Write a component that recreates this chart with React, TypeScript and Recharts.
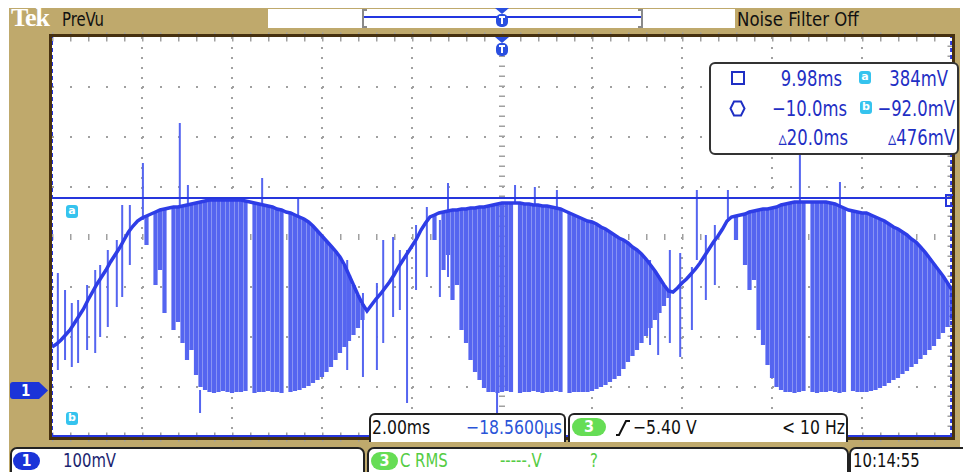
import { ComposedChart, Line, XAxis, YAxis, CartesianGrid, ReferenceLine } from "recharts"
import type { CSSProperties } from "react"

const FONT = '"Liberation Sans Narrow", "DejaVu Sans Condensed", "Arial Narrow", sans-serif'
const KHAKI = "#bfa96c"
const TRACE = "#2e3de6"
const BAND = "#5565f0"
const GRAT = "#a0a0a0"
const READOUT = "#1f2fc4"
const CURSOR = "#2636dc"

// 2.00 ms/div, 100 mV/div, one sample every 0.1 ms from -10 ms
const startMs = -10
const sampleMs = 0.1

// top of the trace (mV)
const upperMv = [
  86, 92, 100, 110, 120, 134, 148, 162, 180, 196,
  212, 226, 240, 256, 270, 284, 300, 316, 328, 338,
  344, 348, 352, 356, 360, 362, 364, 366, 366, 368,
  370, 372, 374, 376, 378, 380, 380, 380, 380, 380,
  380, 380, 380, 378, 376, 374, 372, 370, 368, 366,
  362, 360, 356, 354, 350, 346, 342, 336, 328, 318,
  308, 298, 288, 278, 266, 250, 230, 210, 190, 172,
  158, 170, 182, 192, 204, 216, 230, 246, 260, 274,
  288, 302, 320, 334, 346, 350, 354, 356, 358, 360,
  360, 362, 362, 364, 364, 366, 366, 368, 370, 372,
  374, 374, 374, 374, 374, 372, 372, 370, 370, 368,
  368, 366, 364, 362, 358, 354, 350, 346, 342, 338,
  336, 332, 326, 322, 316, 310, 304, 300, 294, 286,
  280, 272, 262, 250, 238, 224, 210, 198, 196, 204,
  214, 222, 232, 242, 254, 268, 282, 296, 308, 322,
  338, 346, 348, 350, 352, 356, 358, 360, 362, 362,
  364, 366, 370, 372, 374, 376, 376, 376, 376, 376,
  376, 376, 376, 374, 372, 368, 364, 360, 358, 356,
  354, 354, 350, 346, 342, 338, 332, 326, 322, 316,
  310, 302, 296, 286, 276, 264, 252, 240, 228, 214,
  200,
]

// bottom of the chopped band (mV), equal to the top where there is no band
const lowerMv = [
  86, 92, 100, 110, 120, 134, 148, 162, 180, 196,
  212, 226, 240, 256, 270, 284, 300, 316, 328, 338,
  344, 290, 352, 210, 240, 154, 364, 120, 136, 94,
  60, 80, 30, 6, 0, -4, -6, -4, -2, -4,
  -6, -4, -4, -2, 376, -6, -4, -4, -2, -4,
  -4, -6, 356, -4, -2, 0, 4, 8, 14, 20,
  26, 36, 46, 60, 74, 86, 98, 110, 124, 140,
  158, 170, 182, 192, 204, 216, 230, 246, 260, 274,
  288, 302, 320, 334, 346, 300, 354, 240, 270, 180,
  210, 120, 94, 60, 36, 20, 4, -4, -4, -6,
  -4, -2, -4, 374, -6, -4, -4, -2, -4, -6,
  -4, -4, -2, -4, 358, -6, -4, -4, -4, -4,
  -2, 2, 6, 10, 16, 22, 28, 42, 56, 68,
  80, 94, 108, 124, 140, 154, 168, 184, 196, 204,
  214, 222, 232, 242, 254, 268, 282, 296, 308, 322,
  338, 346, 300, 350, 250, 200, 220, 120, 90, 50,
  24, 6, 0, -4, -4, -6, -4, -2, 376, -4,
  -6, -4, -4, -2, -4, -6, -4, 360, -2, -4,
  -4, -4, -2, 0, 4, 8, 14, 20, 24, 32,
  38, 46, 52, 62, 70, 80, 88, 102, 114, 126,
  140,
]

// isolated glitches: time (ms), bottom and top (mV)
const spikeMs = [
  -9.87, -9.71, -9.56, -9.42, -9.22, -9.04, -8.93, -8.76, -8.56, -8.44,
  -8.27, -7.98, -7.16, -6.98, -6.71, -5.33, -4.53, -3.44, -3.09, -2.78,
  -2.64, -2.42, -2.27, -2.11, -1.91, -1.67, -1.38, -1.2, -0.11, 0.29,
  0.73, 1.22, 3.29, 3.47, 3.73, 3.96, 4.22, 4.33, 4.53, 4.73,
  5.02, 6.62, 7.51,
]
const spikeLowMv = [
  40, 60, 46, 54, 80, 74, 106, 126, 166, 186,
  250, 340, 366, 366, -46, 370, 350, 40, 26, 40,
  94, 146, 160, -26, 200, 226, 186, 226, -70, 374,
  370, 366, 90, 70, 94, 66, 120, 260, 180, 210,
  336, 366, 366,
]
const spikeHighMv = [
  234, 200, 174, 180, 210, 240, 250, 280, 300, 370,
  370, 454, 534, 410, 0, 424, 386, 260, 194, 214,
  300, 306, 280, 280, 330, 366, 340, 414, 0, 410,
  406, 400, 260, 230, 280, 274, 246, 400, 310, 330,
  400, 470, 416,
]

// graticule and cursors
const screenMs = [-10, 10]
const screenMv = [-94, 706]
const gridMs = [-8, -6, -4, -2, 2, 4, 6, 8]
const gridMv = [606, 506, 406, 206, 106, 6]
const centerMs = 0
const centerMv = 306
const cursorAMv = 384
const cursorBMv = -92
const cursorAMs = 9.98
const cursorBMs = -10.0

const traceData = upperMv.map((v, i) => ({ t: startMs + i * sampleMs, v }))
const bandData = upperMv.flatMap((v, i) => {
  const t = startMs + i * sampleMs
  return lowerMv[i] < v ? [{ t, v: lowerMv[i] }, { t, v }, { t, v: null }] : []
})
const spikeData = spikeMs.flatMap((t, i) => [
  { t, v: spikeLowMv[i] },
  { t, v: spikeHighMv[i] },
  { t, v: null },
])

const box = (left: number, top: number, width: number, height: number, extra: CSSProperties = {}): CSSProperties => ({
  position: "absolute",
  left,
  top,
  width,
  height,
  boxSizing: "border-box",
  ...extra,
})

// the scope font is narrow, so squeeze the text a little
const txt = (left: number, top: number, size: number, color: string, extra: CSSProperties = {}): CSSProperties => ({
  position: "absolute",
  left,
  top,
  fontSize: size,
  color,
  fontFamily: FONT,
  lineHeight: 1,
  whiteSpace: "nowrap",
  transform: "scaleX(0.87)",
  transformOrigin: extra.textAlign === "right" ? "right center" : "left center",
  ...extra,
})

function TrigMarker({ left, top }: { left: number; top: number }) {
  return (
    <svg style={{ position: "absolute", left, top }} width={14} height={20}>
      <polygon points="0,0 14,0 7,6" fill="#2a4fe0" />
      <rect x={1} y={6} width={12} height={13} rx={5} fill="#2a4fe0" />
      <path d="M4 9 H10 M7 9 V16" stroke="#fff" strokeWidth={2} />
    </svg>
  )
}

function Pill({ left, top, width, color, label }: { left: number; top: number; width: number; color: string; label: string }) {
  return (
    <div
      style={box(left, top, width, 18, {
        background: color,
        borderRadius: 9,
        color: "#fff",
        fontFamily: FONT,
        fontSize: 16,
        fontWeight: 700,
        textAlign: "center",
        lineHeight: "18px",
      })}
    >
      {label}
    </div>
  )
}

function CursorTag({ left, top, label }: { left: number; top: number; label: string }) {
  return (
    <div
      style={box(left, top, 12, 13, {
        background: "#35c3ee",
        borderRadius: 3,
        color: "#fff",
        fontFamily: "DejaVu Sans, sans-serif",
        fontSize: 11,
        fontWeight: 700,
        textAlign: "center",
        lineHeight: "12px",
      })}
    >
      {label}
    </div>
  )
}

export default function App() {
  return (
    <div style={box(0, 0, 963, 472, { background: "#fff", overflow: "hidden" })}>
      <div style={box(9, 8, 951, 464, { background: KHAKI })} />
      <div style={box(52, 37, 900, 400, { background: "#fff" })} />

      <div style={{ position: "absolute", left: 0, top: 0 }}>
        <ComposedChart width={963} height={472} margin={{ top: 37, right: 11, bottom: 35, left: 52 }}>
          <XAxis type="number" dataKey="t" domain={screenMs} allowDataOverflow hide />
          <YAxis type="number" domain={screenMv} allowDataOverflow hide />
          <CartesianGrid horizontal vertical={false} horizontalValues={gridMv} stroke={GRAT} strokeWidth={2} strokeDasharray="2 16" />
          <CartesianGrid horizontal={false} vertical verticalValues={gridMs} stroke={GRAT} strokeWidth={2} strokeDasharray="2 8" />
          <ReferenceLine x={centerMs} stroke={GRAT} strokeWidth={6} strokeDasharray="1.5 8.5" />
          <ReferenceLine y={centerMv} stroke={GRAT} strokeWidth={6} strokeDasharray="1.5 16.5" />
          <ReferenceLine y={screenMv[1]} stroke={GRAT} strokeWidth={9} strokeDasharray="1.5 16.5" />
          <ReferenceLine y={screenMv[0]} stroke={GRAT} strokeWidth={9} strokeDasharray="1.5 16.5" />
          <ReferenceLine x={screenMs[1]} stroke={GRAT} strokeWidth={9} strokeDasharray="1.5 8.5" />
          <Line data={bandData} dataKey="v" stroke={BAND} strokeWidth={4.2} dot={false} activeDot={false} connectNulls={false} isAnimationActive={false} />
          <Line data={spikeData} dataKey="v" stroke={BAND} strokeWidth={2} dot={false} activeDot={false} connectNulls={false} isAnimationActive={false} />
          <Line data={traceData} dataKey="v" stroke={TRACE} strokeWidth={3.5} dot={false} activeDot={false} isAnimationActive={false} />
          <ReferenceLine y={cursorAMv} stroke={CURSOR} strokeWidth={2} />
          <ReferenceLine y={cursorBMv} stroke={CURSOR} strokeWidth={2} />
          <ReferenceLine x={cursorBMs} stroke={CURSOR} strokeWidth={2} strokeDasharray="4 3" />
          <ReferenceLine x={cursorAMs} stroke={CURSOR} strokeWidth={2} strokeDasharray="4 3" />
        </ComposedChart>
      </div>

      {/* bezel around the graticule */}
      <div style={box(49, 34, 906, 406, { border: "3px solid #46300f" })} />

      {/* header */}
      <div style={txt(11, 5, 26, "#fff", { fontFamily: '"Liberation Serif", serif', fontWeight: 700, letterSpacing: -1, transform: "none" })}>Tek</div>
      <div style={txt(62, 10, 19, "#111")}>PreVu</div>
      <div style={box(268, 9, 467, 19, { background: "#fff" })} />
      <div style={box(362, 9, 5, 19, { borderLeft: "2px solid #8a8a8a", borderTop: "2px solid #8a8a8a", borderBottom: "2px solid #8a8a8a" })} />
      <div style={box(638, 9, 5, 19, { borderRight: "2px solid #8a8a8a", borderTop: "2px solid #8a8a8a", borderBottom: "2px solid #8a8a8a" })} />
      <div style={box(364, 16, 277, 2, { background: "#2336e0" })} />
      <TrigMarker left={495} top={8} />
      <TrigMarker left={495} top={37} />
      <div style={txt(737, 9, 20, "#111", { transform: "scaleX(0.92)" })}>Noise Filter Off</div>

      {/* cursor tags */}
      <CursorTag left={66} top={205} label="a" />
      <CursorTag left={66} top={412} label="b" />
      <div style={box(945, 194, 8, 13, { border: "2px solid " + CURSOR, borderRight: "none" })} />

      {/* channel ground marker */}
      <svg style={{ position: "absolute", left: 10, top: 381 }} width={40} height={19}>
        <path d="M3 1 H29 L38 9.5 L29 18 H3 Q0 18 0 15 V4 Q0 1 3 1 Z" fill="#1b34d8" />
        <text x={11} y={15} fill="#fff" fontSize={15} fontWeight={700} fontFamily={FONT}>1</text>
      </svg>

      {/* cursor readout */}
      <div style={box(709, 62, 250, 93, { background: "#fff", border: "2px solid #333", borderRadius: 6 })} />
      <div style={box(731, 71, 14, 14, { border: "2px solid " + READOUT })} />
      <div style={txt(742, 69, 21, READOUT, { width: 100, textAlign: "right" })}>9.98ms</div>
      <CursorTag left={859} top={71} label="a" />
      <div style={txt(850, 69, 21, READOUT, { width: 98, textAlign: "right" })}>384mV</div>
      <svg style={{ position: "absolute", left: 729, top: 100 }} width={17} height={17}>
        <polygon points="5,1.5 12,1.5 15.5,8.5 12,15.5 5,15.5 1.5,8.5" fill="none" stroke={READOUT} strokeWidth={2} />
      </svg>
      <div style={txt(742, 99, 21, READOUT, { width: 105, textAlign: "right" })}>−10.0ms</div>
      <CursorTag left={860} top={101} label="b" />
      <div style={txt(850, 99, 21, READOUT, { width: 105, textAlign: "right" })}>−92.0mV</div>
      <div style={txt(742, 128, 21, READOUT, { width: 106, textAlign: "right" })}>▵20.0ms</div>
      <div style={txt(850, 128, 21, READOUT, { width: 105, textAlign: "right" })}>▵476mV</div>

      {/* timebase and trigger boxes */}
      <div style={box(369, 413, 197, 29, { background: "#fff", border: "2px solid #222", borderBottom: "none", borderRadius: "6px 6px 0 0" })} />
      <div style={txt(372, 417, 20, "#111")}>2.00ms</div>
      <div style={txt(440, 417, 20, "#2a55d8", { width: 122, textAlign: "right" })}>−18.5600µs</div>
      <div style={box(568, 413, 280, 29, { background: "#fff", border: "2px solid #222", borderBottom: "none", borderRadius: "6px 6px 0 0" })} />
      <Pill left={572} top={418} width={34} color="#66dd55" label="3" />
      <svg style={{ position: "absolute", left: 616, top: 419 }} width={14} height={18}>
        <path d="M0 16 H3 L10 2 H14" fill="none" stroke="#111" strokeWidth={2} />
      </svg>
      <div style={txt(633, 417, 20, "#111")}>−5.40 V</div>
      <div style={txt(700, 417, 20, "#111", { width: 145, textAlign: "right" })}>&lt; 10 Hz</div>

      {/* bottom status row */}
      <div style={box(10, 447, 355, 30, { background: "#fff", border: "2px solid #222", borderRadius: "7px 7px 0 0" })} />
      <Pill left={13} top={452} width={27} color="#1b34d8" label="1" />
      <div style={txt(63, 451, 19, "#1c2570")}>100mV</div>
      <div style={box(367, 447, 482, 30, { background: "#fff", border: "2px solid #222", borderRadius: "7px 7px 0 0" })} />
      <Pill left={371} top={452} width={27} color="#66dd55" label="3" />
      <div style={txt(400, 451, 19, "#55cc44")}>C RMS</div>
      <div style={txt(500, 451, 19, "#55cc44")}>-----.V</div>
      <div style={txt(590, 451, 19, "#55cc44")}>?</div>
      <div style={box(849, 447, 120, 30, { background: "#fff", border: "2px solid #222", borderRadius: "7px 7px 0 0" })} />
      <div style={txt(853, 451, 19, "#111")}>10:14:55</div>
    </div>
  )
}
